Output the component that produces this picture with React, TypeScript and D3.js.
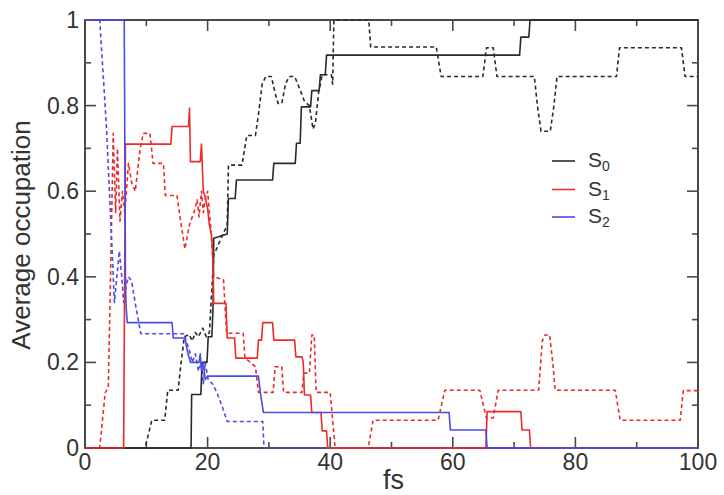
import React from "react";
import * as d3 from "d3";

type Pt = [number, number];

// Occupation of each state over time (fs). Solid and dashed traces per state.
const s0Solid: Pt[] = [
  [0, 0], [17.3, 0], [17.4, 0.125], [18.9, 0.125], [19.1, 0.2], [19.9, 0.2], [20.1, 0.26],
  [20.7, 0.26], [20.9, 0.335], [21, 0.49], [23.2, 0.5], [23.4, 0.583], [24.5, 0.583],
  [24.7, 0.626], [30.6, 0.626], [30.8, 0.665], [34.3, 0.665], [34.5, 0.712], [35.1, 0.712],
  [35.3, 0.797], [36.8, 0.797], [37, 0.835], [38.2, 0.835], [38.4, 0.872], [39.2, 0.872],
  [39.4, 0.918], [70.9, 0.918], [71.1, 0.96], [72.4, 0.96], [72.6, 1], [100, 1],
];

const s0Dashed: Pt[] = [
  [0, 0], [9.8, 0], [10.9, 0.065], [13, 0.065], [13.5, 0.135], [15.2, 0.135], [15.6, 0.19],
  [16.2, 0.26], [17, 0.265], [17.5, 0.25], [18, 0.27], [18.5, 0.26], [19.2, 0.28],
  [19.8, 0.26], [20.3, 0.27], [21, 0.45], [22.5, 0.5], [23.2, 0.52], [23.4, 0.661],
  [25.6, 0.661], [26.4, 0.73], [27.8, 0.73], [28.3, 0.78], [28.9, 0.85], [29.5, 0.868],
  [30.4, 0.868], [31, 0.83], [31.5, 0.805], [32.1, 0.805], [32.7, 0.85], [33.3, 0.868],
  [34.2, 0.868], [35, 0.84], [35.8, 0.81], [36.6, 0.8], [37.2, 0.745], [37.6, 0.76],
  [38.1, 0.83], [38.7, 0.872], [40.2, 0.872], [40.4, 0.85], [40.6, 1], [46.3, 1],
  [46.6, 0.937], [57.3, 0.937], [58.1, 0.868], [64.9, 0.868], [65.5, 0.935], [66.6, 0.935],
  [67.2, 0.868], [73.3, 0.868], [73.8, 0.8], [74.4, 0.74], [75.9, 0.74], [76.5, 0.8],
  [77, 0.868], [86.7, 0.868], [87.2, 0.935], [97.3, 0.935], [97.9, 0.868], [100, 0.868],
];

const s1Solid: Pt[] = [
  [0, 0], [6.3, 0], [6.6, 0.71], [14, 0.71], [14.2, 0.751], [16.9, 0.751], [17.05, 0.794],
  [17.2, 0.669], [18.8, 0.669], [19, 0.71], [19.3, 0.6], [19.6, 0.587], [20, 0.56],
  [20.3, 0.52], [20.6, 0.5], [20.8, 0.467], [21, 0.338], [23, 0.338], [23.2, 0.257],
  [24.4, 0.257], [24.6, 0.21], [28.1, 0.21], [28.3, 0.252], [28.8, 0.252], [29, 0.293],
  [30.6, 0.293], [30.8, 0.252], [34.2, 0.252], [34.4, 0.213], [35.4, 0.213], [35.6, 0.2],
  [35.8, 0.124], [36.8, 0.124], [37, 0.083], [38.5, 0.083], [38.7, 0.04], [39.4, 0.04],
  [39.6, 0], [65.4, 0], [65.6, 0.085], [71.1, 0.085], [71.3, 0.042], [72.5, 0.042],
  [72.7, 0], [100, 0],
];

const s1Dashed: Pt[] = [
  [0, 0], [2.4, 0], [3.3, 0.13], [3.8, 0.14], [4.3, 0.5], [4.6, 0.735], [5, 0.55],
  [5.3, 0.7], [5.7, 0.53], [6.1, 0.6], [6.5, 0.55], [7.1, 0.665], [7.6, 0.62], [8.2, 0.6],
  [9, 0.7], [9.5, 0.735], [10.6, 0.735], [11.1, 0.665], [12.8, 0.665], [13.1, 0.59],
  [15, 0.59], [15.6, 0.53], [16.3, 0.465], [17, 0.52], [17.9, 0.556], [18.3, 0.58],
  [18.6, 0.54], [19, 0.6], [19.3, 0.55], [19.6, 0.58], [20, 0.6], [20.3, 0.55], [20.6, 0.5],
  [21, 0.4], [22.6, 0.393], [23.1, 0.268], [25.8, 0.268], [26.1, 0.21], [27, 0.2],
  [27.8, 0.19], [28.3, 0.13], [30.7, 0.13], [31, 0.19], [32.1, 0.19], [32.4, 0.13],
  [35.4, 0.13], [35.7, 0.175], [36.6, 0.175], [37, 0.264], [37.4, 0.264], [37.7, 0.13],
  [40, 0.13], [40.8, 0], [46.2, 0], [47, 0.065], [57.6, 0.065], [58.7, 0.135], [64.4, 0.135],
  [65.5, 0.07], [66.6, 0.07], [67.4, 0.135], [74, 0.135], [74.6, 0.25], [75, 0.264],
  [75.8, 0.264], [76.3, 0.2], [76.7, 0.135], [86.5, 0.135], [87.3, 0.065], [97.1, 0.065],
  [97.6, 0.134], [100, 0.134],
];

const s2Solid: Pt[] = [
  [0, 1], [6.4, 1], [6.6, 0.4], [6.7, 0.33], [6.9, 0.293], [14.2, 0.293], [14.4, 0.257],
  [16.3, 0.257], [16.8, 0.22], [17.2, 0.2], [18.6, 0.2], [18.8, 0.22], [19, 0.18],
  [19.3, 0.2], [19.6, 0.16], [20, 0.168], [28.3, 0.168], [28.6, 0.13], [29.1, 0.083],
  [59.4, 0.083], [59.6, 0.042], [65.4, 0.042], [65.6, 0], [100, 0],
];

const s2Dashed: Pt[] = [
  [0, 1], [2.4, 1], [3.5, 0.75], [4.4, 0.47], [4.8, 0.34], [5.2, 0.4], [5.6, 0.46],
  [6, 0.4], [6.3, 0.34], [6.7, 0.38], [7.1, 0.4], [7.6, 0.39], [8.3, 0.33], [9.1, 0.267],
  [16.2, 0.267], [16.5, 0.25], [17, 0.23], [17.5, 0.2], [18, 0.22], [18.5, 0.18], [19, 0.2],
  [19.3, 0.15], [19.6, 0.2], [20.1, 0.16], [20.8, 0.15], [21.5, 0.13], [22.3, 0.1],
  [23.2, 0.062], [29, 0.062], [29.2, 0], [100, 0],
];

const xTicksMajor = [0, 20, 40, 60, 80, 100];
const yTicksMajor = [0, 0.2, 0.4, 0.6, 0.8, 1];
const yTickLabels = ["0", "0.2", "0.4", "0.6", "0.8", "1"];
const legendNames = ["0", "1", "2"];

const BLACK = "#2a2a2a";
const RED = "#ee2b2b";
const BLUE = "#4b4be6";

const W = 724;
const H = 495;
const M = { left: 85, right: 26, top: 20, bottom: 47 };

export default function App() {
  const x = d3.scaleLinear().domain([0, 100]).range([M.left, W - M.right]);
  const y = d3.scaleLinear().domain([0, 1]).range([H - M.bottom, M.top]);
  const line = d3
    .line<Pt>()
    .x((d) => x(d[0]))
    .y((d) => y(d[1]));

  const xMinor = d3.range(0, 101, 10);
  const yMinor = d3.range(0, 11).map((i) => i / 10);
  const x0 = M.left;
  const x1 = W - M.right;
  const y0 = H - M.bottom;
  const y1 = M.top;
  const frame = "#4a4a4a";
  const font = "Liberation Sans, Arial, sans-serif";

  const series: { data: Pt[]; color: string; dashed: boolean }[] = [
    { data: s0Dashed, color: BLACK, dashed: true },
    { data: s1Dashed, color: RED, dashed: true },
    { data: s2Dashed, color: BLUE, dashed: true },
    { data: s0Solid, color: BLACK, dashed: false },
    { data: s1Solid, color: RED, dashed: false },
    { data: s2Solid, color: BLUE, dashed: false },
  ];

  const legendColors = [BLACK, RED, BLUE];
  const legendY = [161, 189.5, 217];

  return (
    <>
      <style>{"body{margin:0}"}</style>
      <svg width={W} height={H} style={{ display: "block", background: "#fff", fontFamily: font }}>
        {/* frame */}
        <rect x={x0} y={y1} width={x1 - x0} height={y0 - y1} fill="none" stroke={frame} strokeWidth={2} />
        {/* ticks, pointing inward on all four sides */}
        {xMinor.map((t) => {
          const major = t % 20 === 0;
          const len = major ? 11 : 6;
          return (
            <g key={"xt" + t} stroke={frame} strokeWidth={1.6}>
              <line x1={x(t)} x2={x(t)} y1={y0} y2={y0 - len} />
              <line x1={x(t)} x2={x(t)} y1={y1} y2={y1 + len} />
            </g>
          );
        })}
        {yMinor.map((t, i) => {
          const major = i % 2 === 0;
          const len = major ? 11 : 6;
          return (
            <g key={"yt" + i} stroke={frame} strokeWidth={1.6}>
              <line x1={x0} x2={x0 + len} y1={y(t)} y2={y(t)} />
              <line x1={x1} x2={x1 - len} y1={y(t)} y2={y(t)} />
            </g>
          );
        })}
        {/* tick labels */}
        {xTicksMajor.map((t) => (
          <text key={"xl" + t} x={x(t)} y={470} textAnchor="middle" fontSize={23} fill="#333">
            {t}
          </text>
        ))}
        {yTicksMajor.map((t, i) => (
          <text key={"yl" + t} x={79} y={y(t)} dy="0.35em" textAnchor="end" fontSize={23} fill="#333">
            {yTickLabels[i]}
          </text>
        ))}
        {/* axis titles */}
        <text x={(x0 + x1) / 2 + 2} y={489} textAnchor="middle" fontSize={27} fill="#333">
          fs
        </text>
        <text transform={`translate(30, 235) rotate(-90)`} textAnchor="middle" fontSize={26} fill="#333">
          Average occupation
        </text>
        {/* curves */}
        {series.map((s, i) => (
          <path
            key={"s" + i}
            d={line(s.data) ?? ""}
            fill="none"
            stroke={s.color}
            strokeWidth={1.6}
            strokeDasharray={s.dashed ? "4,3" : undefined}
            strokeLinejoin="round"
          />
        ))}
        {/* legend */}
        {legendNames.map((n, i) => (
          <g key={"lg" + i}>
            <line x1={552} x2={575} y1={legendY[i]} y2={legendY[i]} stroke={legendColors[i]} strokeWidth={1.6} />
            <text x={588} y={legendY[i] + 6} fontSize={21} fill="#333">
              S
              <tspan fontSize={14} dy={4}>
                {n}
              </tspan>
            </text>
          </g>
        ))}
      </svg>
    </>
  );
}
